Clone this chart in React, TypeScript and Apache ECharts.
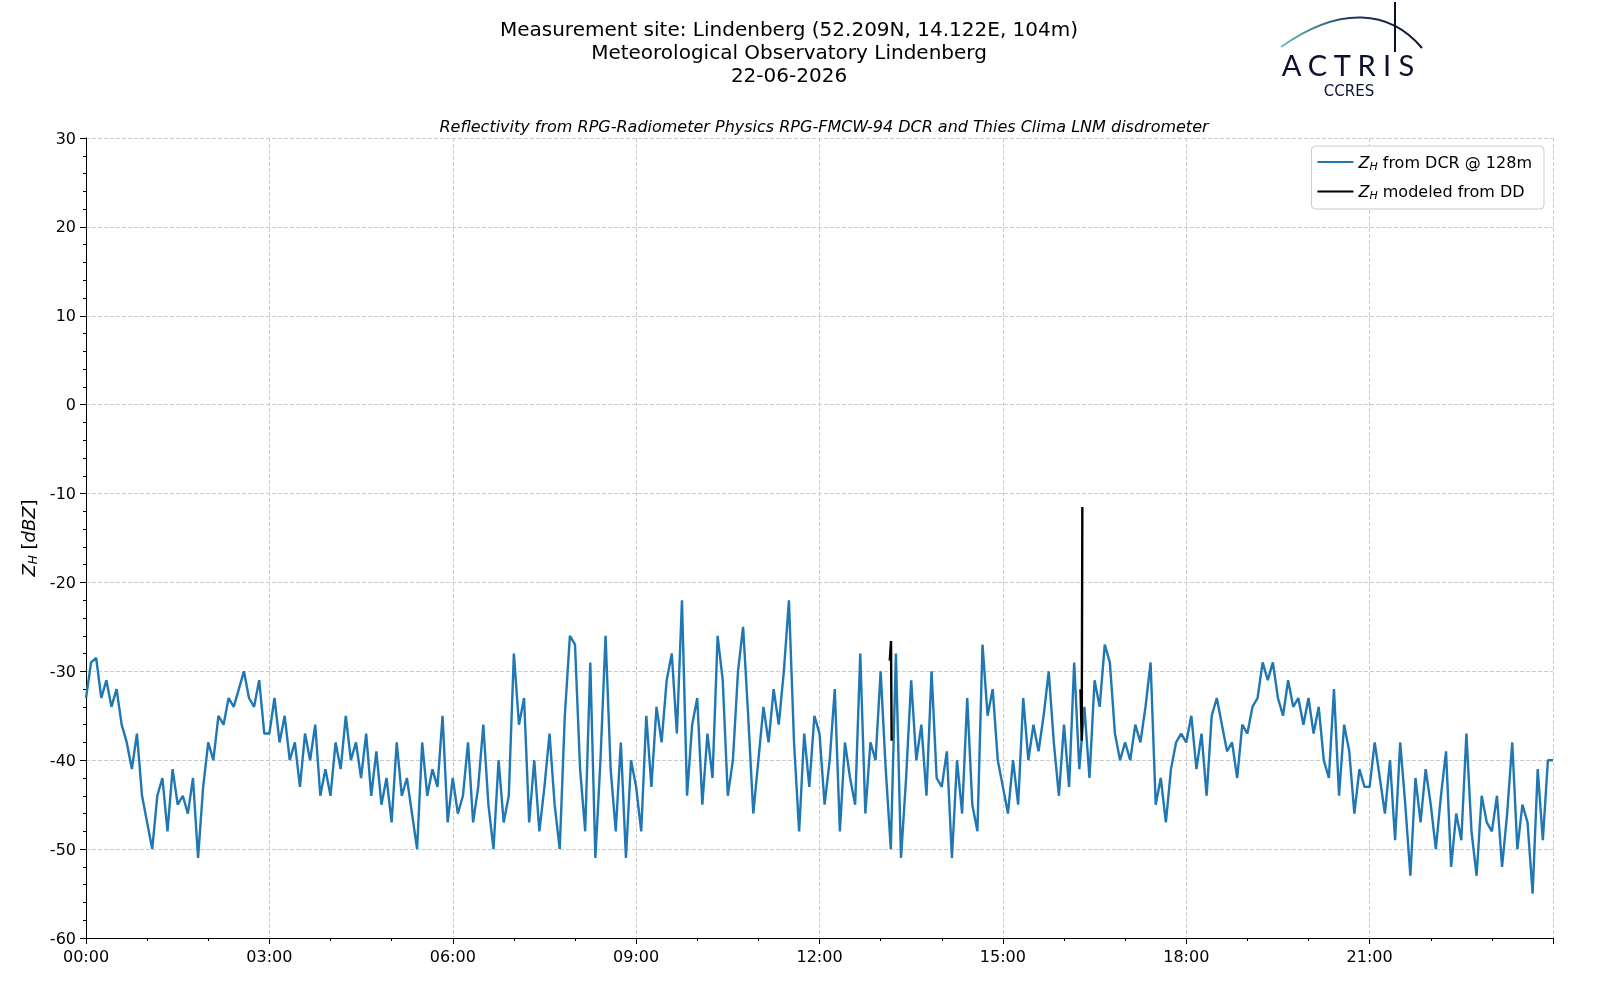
import React, { useEffect, useRef } from 'react';
import * as echarts from 'echarts';

// DCR reflectivity, one value every 5 minutes, one row per hour (dBZ)
const dcrHours: number[][] = [
  [-33, -29, -28.5, -33, -31, -34, -32, -36, -38, -41, -37, -44],
  [-47, -50, -44, -42, -48, -41, -45, -44, -46, -42, -51, -43],
  [-38, -40, -35, -36, -33, -34, -32, -30, -33, -34, -31, -37],
  [-37, -33, -38, -35, -40, -38, -43, -37, -40, -36, -44, -41],
  [-44, -38, -41, -35, -40, -38, -42, -37, -44, -39, -45, -42],
  [-47, -38, -44, -42, -46, -50, -38, -44, -41, -43, -35, -47],
  [-42, -46, -44, -38, -47, -43, -36, -45, -50, -40, -47, -44],
  [-28, -36, -33, -47, -40, -48, -43, -37, -45, -50, -35, -26],
  [-27, -41, -48, -29, -51, -40, -26, -41, -48, -38, -51, -40],
  [-43, -48, -35, -43, -34, -38, -31, -28, -37, -22, -44, -36],
  [-33, -45, -37, -42, -26, -31, -44, -40, -30, -25, -35, -46],
  [-40, -34, -38, -32, -36, -30, -22, -38, -48, -37, -43, -35],
  [-37, -45, -40, -32, -48, -38, -42, -45, -28, -46, -38, -40],
  [-30, -41, -50, -28, -51, -42, -31, -40, -36, -44, -30, -42],
  [-43, -39, -51, -40, -46, -33, -45, -48, -27, -35, -32, -40],
  [-43, -46, -40, -45, -33, -40, -36, -39, -35, -30, -38, -44],
  [-36, -43, -29, -41, -34, -42, -31, -34, -27, -29, -37, -40],
  [-38, -40, -36, -38, -34, -29, -45, -42, -47, -41, -38, -37],
  [-38, -35, -41, -37, -44, -35, -33, -36, -39, -38, -42, -36],
  [-37, -34, -33, -29, -31, -29, -33, -35, -31, -34, -33, -36],
  [-33, -37, -34, -40, -42, -32, -44, -36, -39, -46, -41, -43],
  [-43, -38, -42, -46, -40, -49, -38, -45, -53, -42, -47, -41],
  [-45, -50, -44, -39, -52, -46, -49, -37, -48, -53, -44, -47],
  [-48, -44, -52, -46, -38, -50, -45, -47, -55, -41, -49, -40],
];
const dcrLast = -40;

// disdrometer modeled reflectivity (time in hours)
const ddTime = [13.15, 13.17, 13.18, 13.19, 16.27, 16.29, 16.3, 16.31];
const ddValue: (number | null)[] = [-28.8, -26.6, -37.8, null, -32, -37.8, -11.5, null];

const yTicks = [-60, -50, -40, -30, -20, -10, 0, 10, 20, 30];

const App: React.FC = () => {
  const ref = useRef<HTMLDivElement>(null);

  useEffect(() => {
    const chart = echarts.init(ref.current!, null, { renderer: 'svg' });
    const flat = dcrHours.flat().concat([dcrLast]);
    const dcr = flat.map((v, i) => [i / 12, v]);
    const dd = ddTime.map((t, i) => [t, ddValue[i]]);
    const font = 'DejaVu Sans';
    const sub = { fontSize: 11, fontStyle: 'italic', verticalAlign: 'bottom', padding: [8, 0, 0, 0], fontFamily: font };

    chart.setOption({
      animation: false,
      textStyle: { fontFamily: font },
      grid: { left: 86, right: 47, top: 138, bottom: 62 },
      title: [
        {
          text: 'Measurement site: Lindenberg (52.209N, 14.122E, 104m)\nMeteorological Observatory Lindenberg\n22-06-2026',
          left: 784, top: 12, textAlign: 'center',
          textStyle: { fontSize: 20, fontWeight: 'normal', lineHeight: 23, color: '#000', fontFamily: font },
        },
        {
          text: 'Reflectivity from RPG-Radiometer Physics RPG-FMCW-94 DCR and Thies Clima LNM disdrometer',
          left: 819, top: 113, textAlign: 'center',
          textStyle: { fontSize: 16, fontWeight: 'normal', fontStyle: 'italic', color: '#000', fontFamily: font },
        },
      ],
      legend: {
        right: 56, top: 146, orient: 'vertical', itemWidth: 36, itemHeight: 2, itemGap: 12,
        backgroundColor: '#fff', borderColor: '#ccc', borderWidth: 1, borderRadius: 4, padding: [8, 12, 8, 6],
        textStyle: {
          fontSize: 16, color: '#000',
          rich: { i: { fontSize: 16, fontStyle: 'italic', fontFamily: font }, s: sub, t: { fontSize: 16, fontFamily: font } },
        },
        formatter: (name: string) =>
          name === 'dcr' ? '{i|Z}{s|H}{t| from DCR @ 128m}' : '{i|Z}{s|H}{t| modeled from DD}',
        data: [{ name: 'dcr', icon: 'rect' }, { name: 'dd', icon: 'rect' }],
      },
      xAxis: {
        type: 'value', min: 0, max: 24, interval: 3,
        axisLine: { onZero: false, lineStyle: { color: '#000' } },
        axisTick: { show: true, length: 6, lineStyle: { color: '#000' } },
        minorTick: { show: true, splitNumber: 3, length: 3, lineStyle: { color: '#000' } },
        axisLabel: {
          color: '#000', fontSize: 16, margin: 10,
          formatter: (v: number) => (v === 24 ? '' : String(v).padStart(2, '0') + ':00'),
        },
        splitLine: { show: true, lineStyle: { color: '#ccc', type: 'dashed' } },
      },
      yAxis: {
        type: 'value', min: yTicks[0], max: yTicks[yTicks.length - 1], interval: 10,
        name: '{i|Z}{s|H}{t| [}{i|dBZ}{t|]}',
        nameLocation: 'middle', nameGap: 46, nameRotate: 90,
        nameTextStyle: {
          rich: { i: { fontSize: 18, fontStyle: 'italic', fontFamily: font }, s: { ...sub, fontSize: 12 }, t: { fontSize: 18, fontFamily: font } },
        },
        axisLine: { show: true, onZero: false, lineStyle: { color: '#000' } },
        axisTick: { show: true, length: 6, lineStyle: { color: '#000' } },
        minorTick: { show: true, splitNumber: 5, length: 3, lineStyle: { color: '#000' } },
        axisLabel: { color: '#000', fontSize: 16, margin: 10 },
        splitLine: { show: true, lineStyle: { color: '#ccc', type: 'dashed' } },
      },
      series: [
        {
          name: 'dcr', type: 'line', data: dcr, showSymbol: false, symbol: 'none',
          lineStyle: { color: '#1f77b4', width: 2.4 }, itemStyle: { color: '#1f77b4' },
        },
        {
          name: 'dd', type: 'line', data: dd, showSymbol: false, symbol: 'none', connectNulls: false,
          lineStyle: { color: '#000', width: 2.4 }, itemStyle: { color: '#000' }, z: 3,
        },
      ],
      graphic: [
        {
          type: 'bezierCurve',
          shape: { x1: 1281, y1: 47, cpx1: 1340, cpy1: 5, x2: 1422, y2: 48, cpx2: 1390, cpy2: 10 },
          style: {
            fill: 'none', lineWidth: 2,
            stroke: new echarts.graphic.LinearGradient(0, 0, 1, 0, [
              { offset: 0, color: '#6cc2c0' },
              { offset: 0.5, color: '#1d3a5c' },
              { offset: 1, color: '#0c1030' },
            ]),
          },
        },
        { type: 'line', shape: { x1: 1395, y1: 2, x2: 1395, y2: 52 }, style: { stroke: '#0c1030', lineWidth: 2 } },
        {
          type: 'text', x: 1348, y: 50,
          style: { text: 'A C T R I S', fontSize: 29, fill: '#0c1030', textAlign: 'center', fontFamily: 'Lato' },
        },
        {
          type: 'text', x: 1349, y: 83,
          style: { text: 'CCRES', fontSize: 15, fill: '#0c1030', textAlign: 'center', fontFamily: font },
        },
      ],
    });
    return () => chart.dispose();
  }, []);

  return <div ref={ref} style={{ position: 'fixed', left: 0, top: 0, width: 1600, height: 1000 }} />;
};

export default App;
